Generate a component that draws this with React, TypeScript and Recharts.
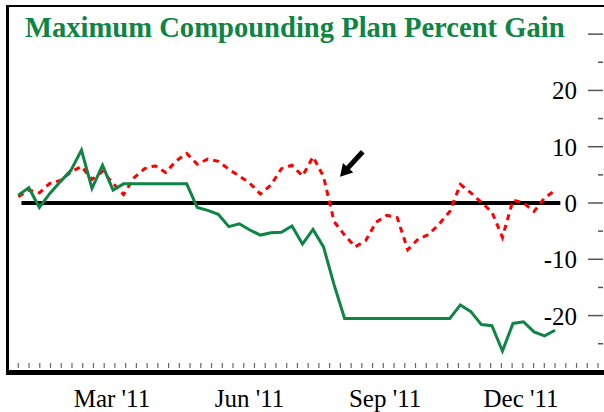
import React from "react";
import { LineChart, Line, XAxis, YAxis, ReferenceLine, ReferenceDot } from "recharts";

// weekly points, 2011
const PLAN_GAIN = [
  1.4, 2.7, -0.8, 1.7, 3.8, 5.8, 9.4, 2.6, 6.7, 2.3, 3.4,
  3.4, 3.4, 3.4, 3.4, 3.4, 3.4,
  -0.8, -1.3, -2.0, -4.2, -3.7, -4.8, -5.7, -5.3, -5.2, -4.1, -7.3, -4.7, -7.8,
  -14.5,
  -20.5, -20.5, -20.5, -20.5, -20.5, -20.5, -20.5, -20.5, -20.5, -20.5, -20.5,
  -18.1, -19.3, -21.6, -21.8, -26.3, -21.4, -21.1, -22.9, -23.6, -22.6,
];
const BENCHMARK = [
  1.1, 2.3, 1.8, 3.5, 4.0, 5.5, 6.5, 4.2, 5.6, 3.5, 1.5,
  4.5, 6.1, 6.6, 5.4, 7.5, 8.8, 6.9, 7.8, 7.4, 6.0, 4.8,
  3.5, 1.6, 3.2, 6.1, 6.7, 4.8, 8.2, 4.7, -3.3, -5.7,
  -7.8, -6.7, -3.4, -2.2, -2.6, -8.3, -6.4, -5.6, -3.7, -1.5,
  3.3, 1.8, 0.1, -1.6, -6.1, 0.5, 0.0, -1.5, 0.9, 2.2,
];
const MONTH_LABELS = ["Mar '11", "Jun '11", "Sep '11", "Dec '11"];
const MONTH_POS = [8.9, 21.97, 34.85, 47.77];
const Y_TICKS = [-25, -20, -15, -10, -5, 0, 5, 10, 15, 20, 25, 30];
const Y_LABELS = [-20, -10, 0, 10, 20];

const GREEN = "#0e8445";
const FONT = "'Liberation Serif', 'Times New Roman', serif";

const data = PLAN_GAIN.map((v, i) => ({ i, plan: v, bench: BENCHMARK[i] }));
// small weekly tick marks along the bottom
const MINOR_TICKS = Array.from({ length: 57 }, (_, k) => +(k * 1.02).toFixed(3));
const X_TICKS = [...MINOR_TICKS, ...MONTH_POS];

function XTick(props: any) {
  const { x, y, payload } = props;
  const idx = MONTH_POS.indexOf(payload.value);
  if (idx >= 0) {
    return (
      <text x={x} y={y + 37} textAnchor="middle" fontFamily={FONT} fontSize={25} fill="#000">
        {MONTH_LABELS[idx]}
      </text>
    );
  }
  return <line x1={x} x2={x} y1={y - 7} y2={y - 2} stroke="#666" strokeWidth={1.2} />;
}

function YTick(props: any) {
  const { x, y, payload } = props;
  const major = payload.value % 10 === 0;
  const showLabel = Y_LABELS.includes(payload.value);
  return (
    <g>
      <line x1={major ? x - 32 : x - 22} x2={x - 17} y1={y} y2={y} stroke="#555" strokeWidth={1.5} />
      {showLabel && (
        <text x={x - 43} y={y + 9} textAnchor="end" fontFamily={FONT} fontSize={25} fill="#000">
          {payload.value}
        </text>
      )}
    </g>
  );
}

function Arrow(props: any) {
  const { cx, cy } = props;
  return (
    <g transform={`translate(${cx},${cy})`}>
      <line x1={7} y1={-7.8} x2={22.7} y2={-25} stroke="#000" strokeWidth={5} />
      <polygon points="0,0 13.2,-4.2 2.9,-13.6" fill="#000" />
    </g>
  );
}

export default function App() {
  return (
    <div style={{ position: "absolute", left: 0, top: 0, width: 604, height: 412, overflow: "hidden", background: "#fff" }}>
      <LineChart width={640} height={412} data={data} margin={{ top: 6, right: 0, bottom: 0, left: 8 }}>
        <XAxis
          dataKey="i"
          type="number"
          domain={[-0.979, 57.17]}
          allowDataOverflow
          ticks={X_TICKS}
          interval={0}
          tick={<XTick />}
          tickLine={false}
          axisLine={false}
          tickSize={0}
          tickMargin={0}
          height={42}
        />
        <YAxis
          orientation="right"
          type="number"
          domain={[-29.67, 35]}
          allowDataOverflow
          ticks={Y_TICKS}
          interval={0}
          tick={<YTick />}
          tickLine={false}
          axisLine={false}
          tickSize={0}
          tickMargin={0}
          width={20}
        />
        <ReferenceLine
          segment={[{ x: 0.3, y: 0 }, { x: 51.5, y: 0 }]}
          stroke="#000"
          strokeWidth={4}
        />
        <Line
          type="linear"
          dataKey="bench"
          stroke="#ff0000"
          strokeWidth={3}
          strokeDasharray="6 5"
          dot={false}
          isAnimationActive={false}
        />
        <Line
          type="linear"
          dataKey="plan"
          stroke={GREEN}
          strokeWidth={3}
          dot={false}
          isAnimationActive={false}
        />
        <ReferenceDot x={30.57} y={4.67} r={0} shape={<Arrow />} />
      </LineChart>
      <div
        style={{
          position: "absolute",
          left: 6,
          top: 5,
          width: 700,
          height: 363,
          borderLeft: "3px solid #000",
          borderTop: "2.5px solid #000",
          borderBottom: "5px solid #000",
          pointerEvents: "none",
        }}
      />
      <svg width={604} height={50} style={{ position: "absolute", left: 0, top: 0 }}>
        <text x={25} y={37} fontFamily={FONT} fontWeight="bold" fontSize={28.6} fill={GREEN}>
          Maximum Compounding Plan Percent Gain
        </text>
      </svg>
    </div>
  );
}
